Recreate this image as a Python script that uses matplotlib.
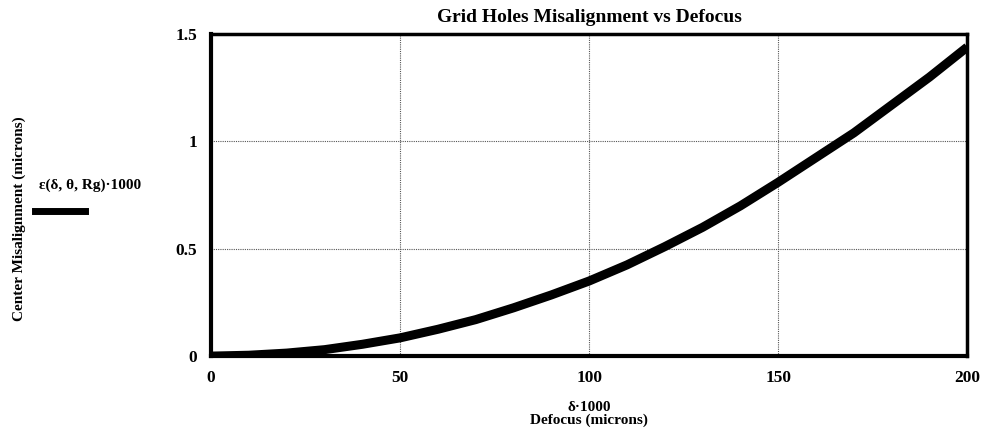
import matplotlib.pyplot as plt
from matplotlib.lines import Line2D

# values
defocus = [0, 10, 20, 30, 40, 50, 60, 70, 80, 90, 100,
           110, 120, 130, 140, 150, 160, 170, 180, 190, 200]
misalign = [0.0, 0.004, 0.014, 0.03, 0.055, 0.085, 0.125, 0.17, 0.225, 0.285, 0.35,
            0.425, 0.51, 0.60, 0.70, 0.81, 0.925, 1.04, 1.17, 1.30, 1.44]
x_ticks = [0, 50, 100, 150, 200]
y_ticks = [0, 0.5, 1, 1.5]
y_tick_labels = ['0', '0.5', '1', '1.5']

plt.rcParams['font.family'] = ['Liberation Serif', 'DejaVu Serif']

fig = plt.figure(figsize=(9.82, 4.38), dpi=100)
ax = fig.add_axes([0.215, 0.187, 0.77, 0.735])

ax.plot(defocus, misalign, color='black', linewidth=6.5, solid_capstyle='butt')

ax.set_xlim(0, 200)
ax.set_ylim(0, 1.5)
ax.set_xticks(x_ticks)
ax.set_yticks(y_ticks)
ax.set_yticklabels(y_tick_labels)
ax.tick_params(length=0, labelsize=12.5, pad=10)
for lab in ax.get_xticklabels() + ax.get_yticklabels():
    lab.set_fontweight('bold')

ax.grid(True, color='#555555', linestyle=(0, (1, 1)), linewidth=0.8)
for side in ['left', 'bottom']:
    ax.spines[side].set_linewidth(3)
for side in ['top', 'right']:
    ax.spines[side].set_linewidth(2.5)

ax.set_title("Grid Holes Misalignment vs Defocus", fontsize=14, fontweight='bold', pad=9)
ax.set_xlabel("\u03b4\u00b71000\nDefocus (microns)", fontsize=11, fontweight='bold',
              linespacing=0.9, labelpad=11)

fig.text(0.02, 0.5, "Center Misalignment (microns)", rotation=90, fontsize=11,
         fontweight='bold', ha='center', va='center')

# legend-like trace label on the left
fig.text(0.04, 0.577, "\u03b5(\u03b4, \u03b8, Rg)\u00b71000", fontsize=11, fontweight='bold',
         ha='left', va='center')
fig.add_artist(Line2D([0.036, 0.087], [0.518, 0.518], color='black', linewidth=5,
                      transform=fig.transFigure))

fig.savefig('out.png', dpi=100)
